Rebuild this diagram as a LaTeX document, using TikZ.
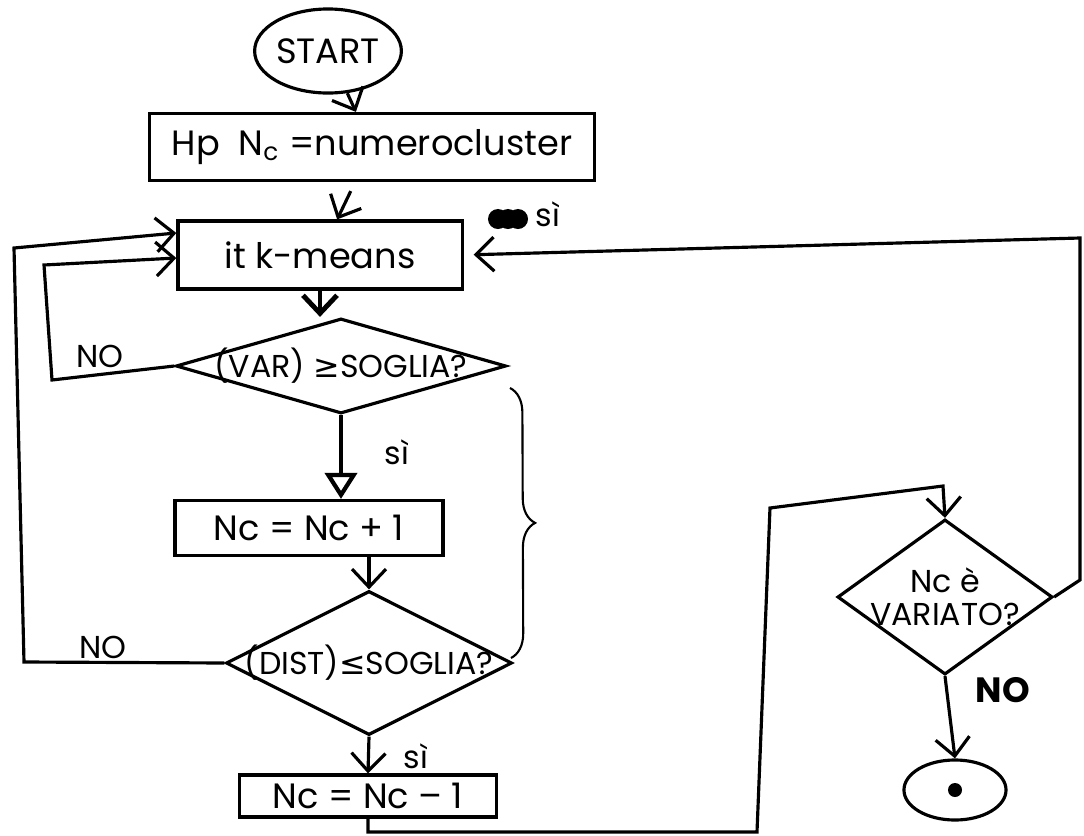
\documentclass[tikz,border=0pt]{standalone}
\usepackage{fontspec}
\setmainfont{Poppins}
\newfontfamily\relfont{DejaVu Sans}
\usetikzlibrary{shapes.geometric,arrows.meta,decorations.pathreplacing}

\newcommand{\nowide}[1]{\makebox[0pt]{#1}}

\begin{document}
\begin{tikzpicture}[x=0.01cm, y=-0.01cm, line width=0.9pt,
  >={Straight Barb[length=1.8mm,width=3.4mm]},
  every node/.style={font=\fontsize{10}{12}\selectfont},
  blk/.style={draw, rectangle, inner sep=0pt},
  test/.style={draw, diamond, inner sep=0pt, font=\fontsize{9}{11}\selectfont},
  term/.style={draw, ellipse, inner sep=0pt},
  lbl/.style={font=\fontsize{9}{11}\selectfont},
]
  \useasboundingbox (0,0) rectangle (1084,836);
  \node[term, minimum width=1.45cm, minimum height=0.84cm] (start) at (328,51) {START};
  \node[blk, minimum width=4.45cm, minimum height=0.67cm] (hp) at (372,147) {Hp\ \ N\textsubscript{c} =numerocluster};
  \node[blk, minimum width=2.84cm, minimum height=0.68cm] (km) at (320,255) {it k-means};
  \node[test, minimum width=3.3cm, minimum height=0.95cm] (var) at (341,366) {\nowide{(VAR) {\relfont ≥}SOGLIA?}};
  \node[blk, minimum width=2.68cm, minimum height=0.55cm] (inc) at (309,528) {Nc = Nc + 1};
  \node[test, minimum width=2.86cm, minimum height=1.44cm] (dist) at (369,663) {\nowide{(DIST){\relfont ≤}SOGLIA?}};
  \node[blk, minimum width=2.57cm, minimum height=0.42cm] (dec) at (368,796) {Nc = Nc -- 1};
  \node[test, minimum width=2.15cm, minimum height=1.55cm] (chk) at (945,597) {\nowide{\shortstack{Nc è\\VARIATO?}}};
  \node[term, minimum width=1.02cm, minimum height=0.6cm] (stop) at (955,790) {};
  \fill (stop.center) circle (0.7mm);

  \draw[->] (start) -- (hp);
  \draw[->, shorten <=1mm] (hp) -- (km);
  \draw[->, line width=1.4pt] (km.south) -- (km.south |- var.north);
  \draw[-{Triangle[open,length=2.6mm,width=3.2mm]}, line width=1.2pt] (var.south) -- (var.south |- inc.north);
  \draw[->] (dist.north |- inc.south) -- (dist.north);
  \draw[->] (dist.south) -- (dec.north);
  \draw[->] (var.west) -- (52,380) -- (44,265) -- ([yshift=-0.3mm]km.west);
  \draw[->] (dist.west) -- (24,662) -- (14,248) -- ([yshift=2.2mm]km.west);
  \draw[->] (dec.south) -- (dec.south |- 0,832) -- (757,832) -- (770,508) -- (943,486) -- (chk.north);
  \draw[->, shorten >=1mm] (chk.east) -- (1080,580) -- (1080,238) -- (km.east);
  \draw[->] (chk.south) -- (stop.north);
  \draw[line width=0.6pt, decorate, decoration={brace, amplitude=7pt}] (510,388) -- (511,658);

  \node[lbl] (no1) at (100,356) {NO};
  \node[lbl] (no2) at (103,647) {NO};
  \node[lbl] (si1) at (397,452) {sì};
  \node[lbl] (si2) at (416,756) {sì};
  \node[lbl] (si3) at (548,214) {sì};
  \node[lbl, font=\fontsize{10}{12}\bfseries] (no3) at (1003,690) {NO};
  \foreach \x in {498,508,518} \fill (\x,219) circle (1mm);
\end{tikzpicture}
\end{document}
